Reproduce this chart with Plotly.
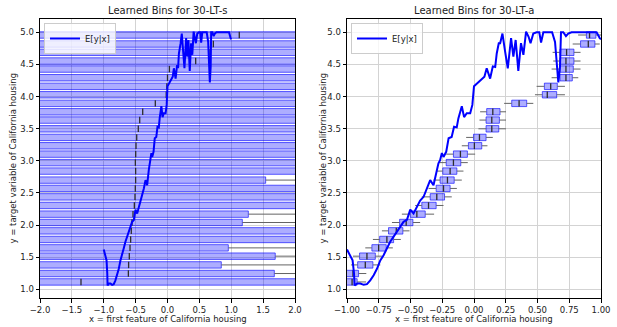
import plotly.graph_objects as go

# ---------------- data ----------------
bin_centers = [4.958, 4.818, 4.688, 4.553, 4.428, 4.293, 4.159, 4.028, 3.894, 3.763,
               3.634, 3.498, 3.364, 3.234, 3.104, 2.972, 2.840, 2.700, 2.570, 2.439,
               2.305, 2.170, 2.040, 1.910, 1.776, 1.645, 1.516, 1.380, 1.246, 1.115]

# 30-LT-s (left): boxes mostly extend past the visible window
s_q1 = [-2.6, -2.7, -2.6, -2.8, -2.7, -2.9, -2.8, -2.7, -2.9, -2.8,
        -2.7, -2.9, -2.8, -2.7, -2.6, -2.8, -2.7, -2.6, -2.9, -2.8,
        -2.7, -2.6, -2.8, -2.9, -2.7, -2.6, -2.8, -2.7, -2.6, -2.5]
s_med = [1.126, 0.719, 0.65, 0.442, 0.03, 0.0, -0.01, -0.02, -0.191, -0.389,
         -0.436, -0.458, -0.483, -0.494, -0.499, -0.504, -0.5, -0.5, -0.505, -0.51,
         -0.52, -0.541, -0.557, -0.568, -0.578, -0.588, -0.599, -0.61, -0.614, -1.357]
s_q3 = [2.6, 2.5, 2.7, 2.4, 2.6, 2.8, 2.5, 2.7, 2.4, 2.6,
        2.5, 2.3, 2.6, 2.4, 2.5, 2.3, 2.2, 1.54, 2.4, 2.3,
        2.2, 1.268, 1.174, 2.3, 2.2, 0.954, 1.69, 0.844, 1.676, 2.5]
s_wlo = [-3.5, -3.6, -3.4, -3.7, -3.5, -3.8, -3.6, -3.5, -3.7, -3.6,
         -3.5, -3.7, -3.6, -3.5, -3.4, -3.6, -3.5, -3.4, -3.7, -3.6,
         -3.5, -3.4, -3.6, -3.7, -3.5, -3.4, -3.6, -3.5, -3.4, -3.3]
s_whi = [3.5, 3.4, 3.6, 3.3, 3.5, 3.7, 3.4, 3.6, 3.3, 3.5,
         3.4, 3.2, 3.5, 3.3, 3.4, 3.2, 3.1, 3.0, 3.3, 3.2,
         3.1, 2.9, 2.8, 3.2, 3.1, 2.7, 3.0, 2.6, 3.0, 3.4]

# 30-LT-a (right)
a_q1 = [0.885, 0.839, 0.677, 0.677, 0.677, 0.677, 0.554, 0.538, 0.297, 0.100,
        0.095, 0.095, -0.004, -0.044, -0.162, -0.219, -0.246, -0.267, -0.298, -0.345,
        -0.411, -0.502, -0.586, -0.673, -0.743, -0.804, -0.901, -0.916, -1.02, -1.02]
a_med = [0.91, 0.900, 0.729, 0.724, 0.724, 0.724, 0.604, 0.577, 0.355, 0.148,
         0.140, 0.140, 0.043, 0.003, -0.107, -0.162, -0.188, -0.209, -0.240, -0.293,
         -0.358, -0.450, -0.534, -0.612, -0.686, -0.751, -0.843, -0.856, -0.953, -0.96]
a_q3 = [0.96, 0.952, 0.787, 0.787, 0.782, 0.774, 0.656, 0.651, 0.415, 0.205,
        0.200, 0.195, 0.095, 0.061, -0.052, -0.104, -0.135, -0.156, -0.188, -0.232,
        -0.298, -0.384, -0.481, -0.560, -0.633, -0.691, -0.777, -0.796, -0.909, -0.92]
a_wlo = [0.82, 0.777, 0.619, 0.624, 0.611, 0.611, 0.493, 0.480, 0.237, 0.048,
         0.043, 0.035, -0.062, -0.096, -0.219, -0.272, -0.298, -0.319, -0.358, -0.411,
         -0.463, -0.568, -0.646, -0.725, -0.796, -0.856, -0.953, -0.969, -1.1, -1.1]
a_whi = [1.03, 0.99, 0.839, 0.839, 0.839, 0.821, 0.716, 0.716, 0.467, 0.252,
         0.252, 0.252, 0.148, 0.106, 0.009, -0.049, -0.083, -0.096, -0.135, -0.175,
         -0.240, -0.314, -0.424, -0.508, -0.576, -0.639, -0.725, -0.738, -0.848, -0.85]

# E[y|x] curve
curve_x = [-1.000, -0.974, -0.956, -0.945, -0.940, -0.920, -0.895, -0.869, -0.843, -0.817,
           -0.790, -0.764, -0.738, -0.712, -0.686, -0.660, -0.633, -0.607, -0.581, -0.555,
           -0.528, -0.502, -0.476, -0.450, -0.424, -0.397, -0.371, -0.345, -0.319, -0.293,
           -0.280, -0.267, -0.253, -0.240, -0.219, -0.200, -0.176, -0.157, -0.136, -0.123,
           -0.096, -0.078, -0.057, -0.030, -0.013, 0.000, 0.035, 0.061, 0.082, 0.100,
           0.127, 0.148, 0.167, 0.179, 0.195, 0.206, 0.224, 0.245, 0.266, 0.292,
           0.310, 0.328, 0.349, 0.370, 0.389, 0.410, 0.430, 0.445, 0.467, 0.493,
           0.514, 0.528, 0.546, 0.572, 0.598, 0.615, 0.638, 0.651, 0.664, 0.677,
           0.685, 0.703, 0.724, 0.742, 0.768, 0.850, 0.965, 0.990, 1.000]
curve_y = [1.62, 1.53, 1.45, 1.25, 1.06, 1.09, 1.09, 1.07, 1.08, 1.14,
           1.22, 1.32, 1.45, 1.53, 1.64, 1.74, 1.82, 1.89, 1.97, 2.05,
           2.08, 2.24, 2.18, 2.28, 2.38, 2.44, 2.57, 2.70, 2.62, 2.86,
           2.96, 3.01, 3.12, 3.06, 3.14, 3.35, 3.37, 3.53, 3.52, 3.66,
           3.85, 3.68, 3.74, 3.74, 3.87, 4.16, 4.23, 4.28, 4.31, 4.44,
           4.28, 4.47, 4.46, 4.67, 4.83, 4.83, 4.98, 4.70, 4.44, 4.91,
           4.62, 4.88, 4.40, 4.83, 4.65, 5.01, 4.93, 4.83, 4.98, 5.00,
           5.00, 4.84, 5.00, 5.00, 5.00, 5.00, 4.85, 4.57, 4.22, 4.46,
           5.00, 5.00, 4.94, 4.98, 5.00, 5.00, 5.00, 4.91, 4.89]

titles = ["Learned Bins for 30-LT-s", "Learned Bins for 30-LT-a"]
x_title = "x = first feature of California housing"
y_title = "y = target variable of California housing"

# ---------------- styles ----------------
FONT = "DejaVu Sans"
TXT = "#222222"
BOX_FILL = "rgba(0,0,255,0.32)"
BOX_EDGE = "rgba(0,0,255,0.62)"
MED_COLOR = "rgb(45,45,45)"
WHISK_COLOR = "rgb(100,100,100)"
BOX_W = 0.1

fig = go.Figure()


def add_panel(q1, med, q3, wlo, whi, xa, ya, legend_name):
    fig.add_trace(go.Bar(
        orientation="h", y=bin_centers, base=q1,
        x=[b - a for a, b in zip(q1, q3)], width=BOX_W,
        marker=dict(color=BOX_FILL, line=dict(color=BOX_EDGE, width=1)),
        xaxis=xa, yaxis=ya, showlegend=False, hoverinfo="skip"))
    wx, wy = [], []
    for c, lo, a, b, hi in zip(bin_centers, wlo, q1, q3, whi):
        wx += [lo, a, None, b, hi, None]
        wy += [c, c, None, c, c, None]
    fig.add_trace(go.Scatter(x=wx, y=wy, mode="lines",
                             line=dict(color=WHISK_COLOR, width=1),
                             xaxis=xa, yaxis=ya, showlegend=False, hoverinfo="skip"))
    mx, my = [], []
    for c, m in zip(bin_centers, med):
        mx += [m, m, None]
        my += [c - BOX_W / 2, c + BOX_W / 2, None]
    fig.add_trace(go.Scatter(x=mx, y=my, mode="lines",
                             line=dict(color=MED_COLOR, width=1.3),
                             xaxis=xa, yaxis=ya, showlegend=False, hoverinfo="skip"))
    fig.add_trace(go.Scatter(x=curve_x, y=curve_y, mode="lines", name="E[y|x]",
                             line=dict(color="#0000ff", width=2),
                             xaxis=xa, yaxis=ya, showlegend=True, legend=legend_name))


add_panel(s_q1, s_med, s_q3, s_wlo, s_whi, "x", "y", "legend")
add_panel(a_q1, a_med, a_q3, a_wlo, a_whi, "x2", "y2", "legend2")

W, H = 617, 327
L, R, T, B = 40, 601, 19, 298
pw, ph = R - L, B - T
left_dom = [0, (295 - L) / pw]
right_dom = [(347 - L) / pw, 1]

axis_common = dict(showline=True, mirror=True, linecolor="black", linewidth=1,
                   ticks="outside", ticklen=3.5, tickcolor="black", tickwidth=1,
                   showgrid=True, gridcolor="#d3d3d3", gridwidth=1, zeroline=False,
                   automargin=False,
                   tickfont=dict(family=FONT, size=8.5, color=TXT))
yr = [0.865, 5.207]


def px_x(p):
    return (p - L) / pw


def px_y(p):
    return (B - p) / ph


def text_ann(text, x, y, size, angle=0):
    return dict(text=text, x=x, y=y, xref="paper", yref="paper",
                xanchor="center", yanchor="middle", showarrow=False, textangle=angle,
                font=dict(family=FONT, size=size, color=TXT))


fig.update_layout(
    width=W, height=H,
    margin=dict(l=L, r=W - R, t=T, b=H - B, pad=0),
    paper_bgcolor="white", plot_bgcolor="white", barmode="overlay",
    font=dict(family=FONT, size=8.5, color=TXT),
    xaxis=dict(domain=left_dom, range=[-2, 2], dtick=0.5, tickformat=".1f",
               anchor="y", **axis_common),
    yaxis=dict(domain=[0, 1], range=yr, dtick=0.5, tickformat=".1f",
               anchor="x", **axis_common),
    xaxis2=dict(domain=right_dom, range=[-1, 1], dtick=0.25, tickformat=".2f",
                anchor="y2", **axis_common),
    yaxis2=dict(domain=[0, 1], range=yr, dtick=0.5, tickformat=".1f",
                anchor="x2", **axis_common),
    legend=dict(x=px_x(44), y=px_y(23), xanchor="left", yanchor="top",
                bgcolor="rgba(255,255,255,0.8)", bordercolor="#cccccc", borderwidth=1,
                font=dict(family=FONT, size=8.5, color=TXT), itemwidth=30,
                tracegroupgap=0),
    legend2=dict(x=px_x(351), y=px_y(23), xanchor="left", yanchor="top",
                 bgcolor="rgba(255,255,255,0.8)", bordercolor="#cccccc", borderwidth=1,
                 font=dict(family=FONT, size=8.5, color=TXT), itemwidth=30,
                 tracegroupgap=0),
    annotations=[
        text_ann(titles[0], (left_dom[0] + left_dom[1]) / 2, px_y(10.5), 10),
        text_ann(titles[1], (right_dom[0] + right_dom[1]) / 2, px_y(10.5), 10),
        text_ann(x_title, (left_dom[0] + left_dom[1]) / 2, px_y(319), 8.5),
        text_ann(x_title, (right_dom[0] + right_dom[1]) / 2, px_y(319), 8.5),
        text_ann(y_title, px_x(12), 0.5, 8.5, -90),
        text_ann(y_title, px_x(322), 0.5, 8.5, -90),
    ],
)

# remove the default page margin so the figure sits at the window's corner
fig.write_html("out.html",
               config={"displayModeBar": False, "staticPlot": True},
               post_script="document.body.style.margin='0';document.body.style.overflow='hidden';")
